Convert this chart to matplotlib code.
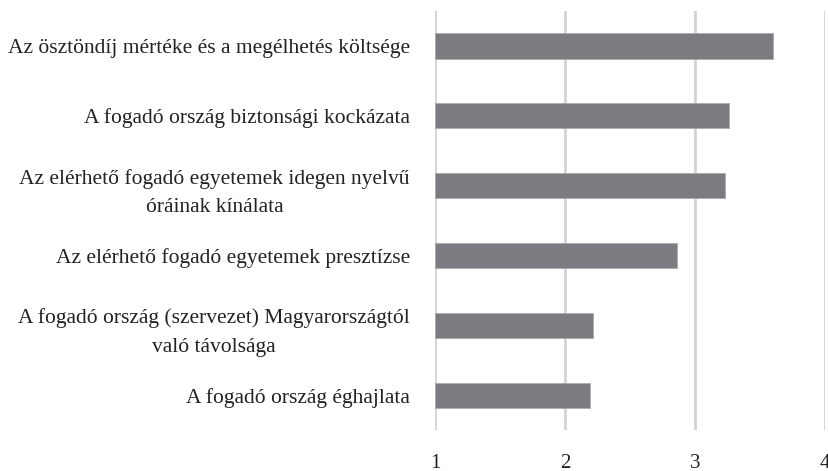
import matplotlib
matplotlib.use("Agg")
import matplotlib.pyplot as plt

categories = [
    "Az ösztöndíj mértéke és a megélhetés költsége",
    "A fogadó ország biztonsági kockázata",
    "Az elérhető fogadó egyetemek idegen nyelvű\nóráinak kínálata",
    "Az elérhető fogadó egyetemek presztízse",
    "A fogadó ország (szervezet) Magyarországtól\nvaló távolsága",
    "A fogadó ország éghajlata",
]
values = [3.60, 3.26, 3.23, 2.86, 2.22, 2.19]
xticks = [1, 2, 3, 4]

plt.rcParams['font.family'] = ['Liberation Serif', 'DejaVu Serif']

fig = plt.figure(figsize=(8.29, 4.71), dpi=100)
ax = fig.add_axes([0.5247, 0.087, 0.4701, 0.8896])

ypos = list(range(len(categories)))
ax.barh(ypos, [v - 1 for v in values], left=1, height=0.36,
        color='#7b7c80', edgecolor='#a9aaad', linewidth=0.6, zorder=3)

ax.set_xlim(1, 4)
ax.set_ylim(len(categories) - 0.5, -0.5)
ax.set_xticks(xticks)
ax.set_xticklabels([str(t) for t in xticks], fontsize=15)
ax.set_yticks(ypos)
ax.set_yticklabels(categories, fontsize=15.5, multialignment='center', linespacing=1.7)
ax.tick_params(axis='both', length=0, colors='#222222')
ax.tick_params(axis='y', pad=18)
ax.tick_params(axis='x', pad=17)
ax.xaxis.grid(True, color='#d3d3d6', linewidth=2, zorder=0)
ax.set_axisbelow(True)
for s in ax.spines.values():
    s.set_visible(False)

fig.savefig("out.png", dpi=100)
